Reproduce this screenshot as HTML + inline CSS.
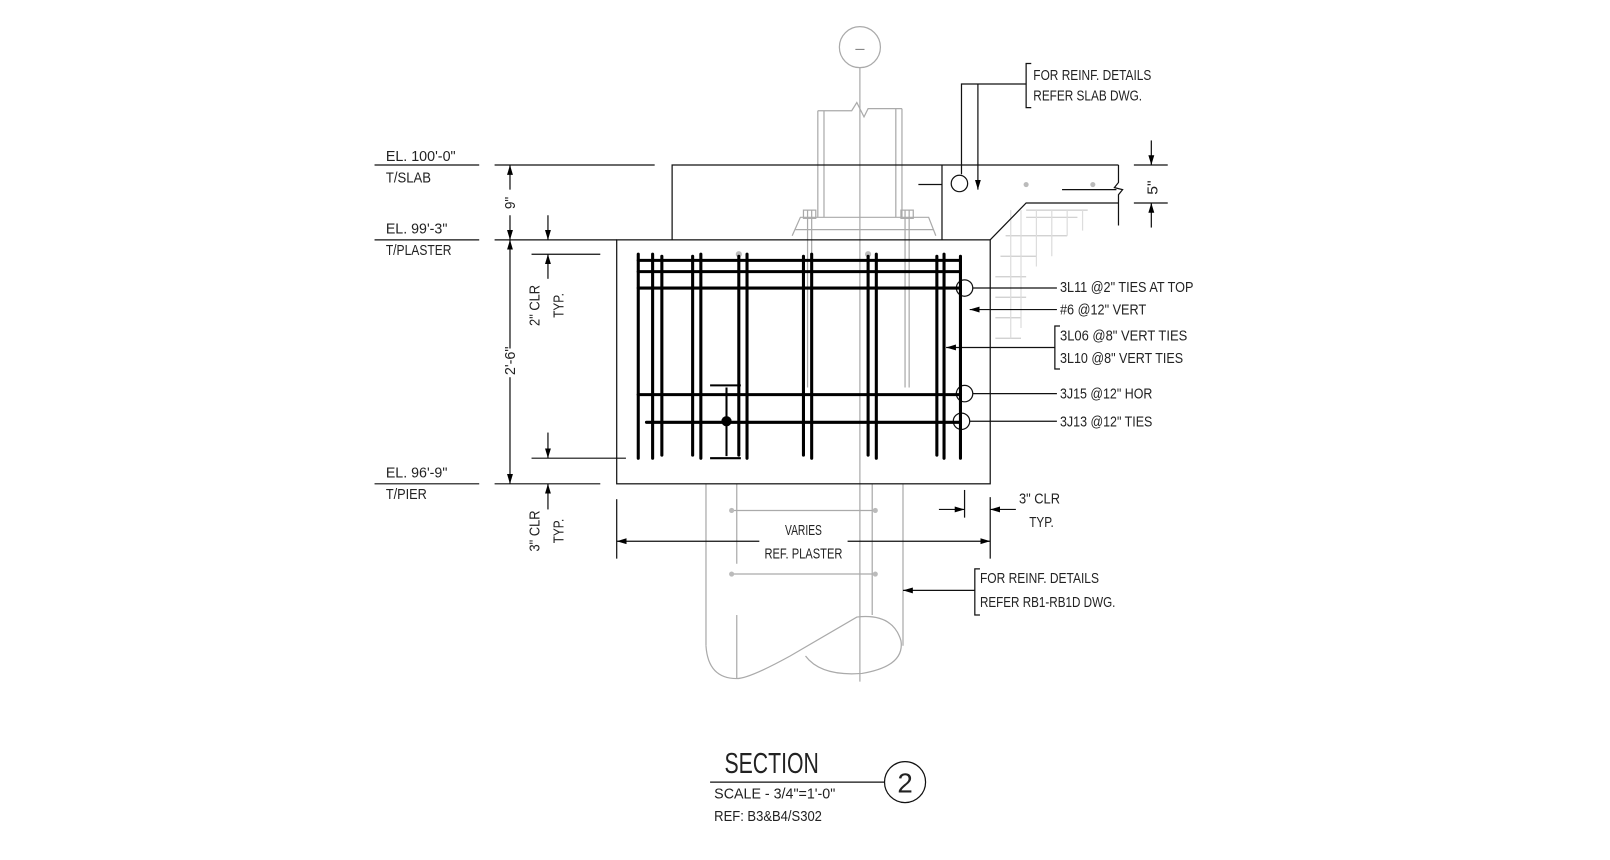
<!DOCTYPE html>
<html><head><style>
html,body{margin:0;padding:0;background:#fff;}
svg{display:block;}
text{font-family:"Liberation Sans",sans-serif;fill:#222;}
</style></head><body>
<svg width="1610" height="860" viewBox="0 0 1569 839" preserveAspectRatio="none" xmlns="http://www.w3.org/2000/svg">
<defs>
<marker id="a" viewBox="0 0 10 10" refX="10" refY="5" markerWidth="8" markerHeight="8" orient="auto-start-reverse"><path d="M0,2 L10,5 L0,8 z" fill="#000"/></marker>
</defs>
<rect width="1569" height="839" fill="#fff"/>
<g stroke="#aaa" stroke-width="1.2" fill="none">
<circle cx="838" cy="46" r="20"/>
<line x1="838" y1="66" x2="838" y2="665"/>
<path d="M797,108 L830,108 L835,100 L842,114 L846,106 L879,106"/>
<line x1="797" y1="108" x2="797" y2="212"/><line x1="803" y1="108" x2="803" y2="212"/>
<line x1="873" y1="106" x2="873" y2="212"/><line x1="879" y1="106" x2="879" y2="212"/>
<path d="M772,230 L780,212 L905,212 L912,230"/>
<line x1="775" y1="224" x2="910" y2="224"/>
<line x1="787" y1="205" x2="787" y2="378"/><line x1="791" y1="205" x2="791" y2="378"/>
<line x1="882" y1="205" x2="882" y2="378"/><line x1="886" y1="205" x2="886" y2="378"/>
<rect x="783" y="205" width="12" height="8"/><rect x="878" y="205" width="12" height="8"/>
<line x1="688" y1="472" x2="688" y2="630"/><line x1="880" y1="472" x2="880" y2="630"/>
<line x1="713" y1="498" x2="853" y2="498"/><line x1="713" y1="560" x2="853" y2="560"/>
<line x1="718" y1="472" x2="718" y2="550"/><line x1="718" y1="600" x2="718" y2="662"/>
<line x1="850" y1="472" x2="850" y2="600"/>
<path d="M688,630 Q690,662 718,662 Q730,662 770,640 L835,602 Q870,598 878,625 Q882,650 840,657 Q800,660 785,640"/>
<path d="M1000,205 H1060 M1000,212 H1050 M980,230 H1040 M975,250 H1010 M970,270 H1000 M970,290 H1000 M970,310 H995 M970,330 H995" stroke="#ccc"/>
<path d="M985,205 V330 M995,205 V320 M1010,205 V260 M1025,205 V250 M1040,205 V230 M1055,205 V225" stroke="#ddd"/>
</g>
<g fill="#bbb"><circle cx="1000" cy="180" r="2.5"/><circle cx="1065" cy="180" r="2.5"/><circle cx="713" cy="498" r="2.5"/><circle cx="853" cy="498" r="2.5"/><circle cx="713" cy="560" r="2.5"/><circle cx="853" cy="560" r="2.5"/><circle cx="720" cy="248" r="3"/><circle cx="846" cy="248" r="3"/></g>
<g stroke="#111" stroke-width="1.2" fill="none">
<line x1="482" y1="161" x2="638" y2="161"/>
<path d="M655,234 V161 H1090"/>
<path d="M918,234 V161"/>
<path d="M895,180 H918"/>
<line x1="1035" y1="185" x2="1088" y2="185"/>
<path d="M1090,161 V178 L1086,183 L1094,185 L1090,190 V220"/>
<path d="M1090,198 H1000 L965,234"/>
<circle cx="935" cy="179" r="8"/>
<path d="M1005,62 H1000 V105 H1005"/>
<path d="M1000,82 H937 V170"/>
<line x1="953" y1="82" x2="953" y2="185" marker-end="url(#a)"/>
<line x1="1105" y1="161" x2="1138" y2="161"/><line x1="1105" y1="198" x2="1138" y2="198"/>
<line x1="1122" y1="137" x2="1122" y2="161" marker-end="url(#a)"/>
<line x1="1122" y1="222" x2="1122" y2="198" marker-end="url(#a)"/>
<rect x="601" y="234" width="364" height="238"/>
<line x1="365" y1="161" x2="467" y2="161"/>
<line x1="365" y1="234" x2="467" y2="234"/><line x1="482" y1="234" x2="601" y2="234"/>
<line x1="365" y1="472" x2="467" y2="472"/><line x1="482" y1="472" x2="585" y2="472"/>
<line x1="497" y1="185" x2="497" y2="161" marker-end="url(#a)"/>
<line x1="497" y1="210" x2="497" y2="234" marker-end="url(#a)"/>
<line x1="497" y1="340" x2="497" y2="234" marker-end="url(#a)"/>
<line x1="497" y1="368" x2="497" y2="472" marker-end="url(#a)"/>
<line x1="534" y1="210" x2="534" y2="234" marker-end="url(#a)"/>
<line x1="518" y1="248" x2="585" y2="248"/>
<line x1="534" y1="272" x2="534" y2="248" marker-end="url(#a)"/>
<line x1="534" y1="422" x2="534" y2="447" marker-end="url(#a)"/>
<line x1="518" y1="447" x2="610" y2="447"/>
<line x1="534" y1="497" x2="534" y2="472" marker-end="url(#a)"/>
<line x1="601" y1="487" x2="601" y2="545"/>
<line x1="940" y1="478" x2="940" y2="505"/>
<line x1="965" y1="485" x2="965" y2="545"/>
<line x1="915" y1="497" x2="940" y2="497" marker-end="url(#a)"/>
<line x1="990" y1="497" x2="965" y2="497" marker-end="url(#a)"/>
<line x1="740" y1="528" x2="601" y2="528" marker-end="url(#a)"/>
<line x1="826" y1="528" x2="965" y2="528" marker-end="url(#a)"/>
<line x1="948" y1="281" x2="1030" y2="281"/>
<line x1="1030" y1="302" x2="945" y2="302" marker-end="url(#a)"/>
<path d="M1033,318 H1028 V360 H1033"/>
<line x1="1028" y1="339" x2="922" y2="339" marker-end="url(#a)"/>
<line x1="948" y1="384" x2="1030" y2="384"/>
<line x1="945" y1="411" x2="1030" y2="411"/>
<circle cx="940" cy="281" r="8"/><circle cx="940" cy="384" r="8"/><circle cx="937" cy="411" r="8"/>
<path d="M955,555 H950 V600 H955"/>
<line x1="950" y1="576" x2="880" y2="576" marker-end="url(#a)"/>
<line x1="692" y1="763" x2="862" y2="763"/>
<circle cx="882" cy="763" r="20"/>
</g>
<g stroke="#000" stroke-width="3" fill="none" stroke-linecap="round">
<line x1="622" y1="254" x2="936" y2="254"/>
<line x1="622" y1="265" x2="936" y2="265"/>
<line x1="622" y1="281" x2="936" y2="281"/>
<line x1="622" y1="385" x2="936" y2="385"/>
<line x1="630" y1="412" x2="936" y2="412"/>
<line x1="622" y1="248" x2="622" y2="447"/>
<line x1="636" y1="248" x2="636" y2="447"/>
<line x1="645" y1="250" x2="645" y2="444"/>
<line x1="675" y1="250" x2="675" y2="444"/>
<line x1="683" y1="248" x2="683" y2="447"/>
<line x1="720" y1="250" x2="720" y2="444"/>
<line x1="728" y1="248" x2="728" y2="447"/>
<line x1="783" y1="250" x2="783" y2="444"/>
<line x1="791" y1="248" x2="791" y2="447"/>
<line x1="846" y1="250" x2="846" y2="444"/>
<line x1="854" y1="248" x2="854" y2="447"/>
<line x1="913" y1="250" x2="913" y2="444"/>
<line x1="920" y1="248" x2="920" y2="447"/>
<line x1="936" y1="250" x2="936" y2="447"/>
</g>
<g stroke="#000" stroke-width="2" fill="none">
<line x1="692" y1="376" x2="722" y2="376"/><line x1="692" y1="447" x2="722" y2="447"/>
<line x1="708" y1="378" x2="708" y2="445"/>
</g>
<circle cx="708" cy="411" r="5" fill="#000"/>
<g font-size="14">
<text x="376" y="157" textLength="68" lengthAdjust="spacingAndGlyphs">EL. 100'-0"</text>
<text x="376" y="178" textLength="44" lengthAdjust="spacingAndGlyphs">T/SLAB</text>
<text x="376" y="228" textLength="60" lengthAdjust="spacingAndGlyphs">EL. 99'-3"</text>
<text x="376" y="249" textLength="64" lengthAdjust="spacingAndGlyphs">T/PLASTER</text>
<text x="376" y="466" textLength="60" lengthAdjust="spacingAndGlyphs">EL. 96'-9"</text>
<text x="376" y="487" textLength="40" lengthAdjust="spacingAndGlyphs">T/PIER</text>
<text transform="translate(502,204) rotate(-90)" textLength="12" lengthAdjust="spacingAndGlyphs">9"</text>
<text transform="translate(502,366) rotate(-90)" textLength="28" lengthAdjust="spacingAndGlyphs">2'-6"</text>
<text transform="translate(526,318) rotate(-90)" textLength="40" lengthAdjust="spacingAndGlyphs">2" CLR</text>
<text transform="translate(549,310) rotate(-90)" textLength="24" lengthAdjust="spacingAndGlyphs">TYP.</text>
<text transform="translate(526,538) rotate(-90)" textLength="40" lengthAdjust="spacingAndGlyphs">3" CLR</text>
<text transform="translate(549,530) rotate(-90)" textLength="24" lengthAdjust="spacingAndGlyphs">TYP.</text>
<text transform="translate(1128,190) rotate(-90)" textLength="14" lengthAdjust="spacingAndGlyphs">5"</text>
<text x="1007" y="78" textLength="115" lengthAdjust="spacingAndGlyphs">FOR REINF. DETAILS</text>
<text x="1007" y="98" textLength="106" lengthAdjust="spacingAndGlyphs">REFER SLAB DWG.</text>
<text x="1033" y="285" textLength="130" lengthAdjust="spacingAndGlyphs">3L11 @2" TIES AT TOP</text>
<text x="1033" y="307" textLength="84" lengthAdjust="spacingAndGlyphs">#6 @12" VERT</text>
<text x="1033" y="332" textLength="124" lengthAdjust="spacingAndGlyphs">3L06 @8" VERT TIES</text>
<text x="1033" y="354" textLength="120" lengthAdjust="spacingAndGlyphs">3L10 @8" VERT TIES</text>
<text x="1033" y="389" textLength="90" lengthAdjust="spacingAndGlyphs">3J15 @12" HOR</text>
<text x="1033" y="416" textLength="90" lengthAdjust="spacingAndGlyphs">3J13 @12" TIES</text>
<text x="993" y="491" textLength="40" lengthAdjust="spacingAndGlyphs">3" CLR</text>
<text x="1003" y="514" textLength="24" lengthAdjust="spacingAndGlyphs">TYP.</text>
<text x="765" y="522" textLength="36" lengthAdjust="spacingAndGlyphs">VARIES</text>
<text x="745" y="545" textLength="76" lengthAdjust="spacingAndGlyphs">REF. PLASTER</text>
<text x="955" y="569" textLength="116" lengthAdjust="spacingAndGlyphs">FOR REINF. DETAILS</text>
<text x="955" y="592" textLength="132" lengthAdjust="spacingAndGlyphs">REFER RB1-RB1D DWG.</text>
<text x="696" y="779" textLength="118" lengthAdjust="spacingAndGlyphs">SCALE - 3/4"=1'-0"</text>
<text x="696" y="801" textLength="105" lengthAdjust="spacingAndGlyphs">REF: B3&amp;B4/S302</text>
</g>
<text x="706" y="754" font-size="28" textLength="92" lengthAdjust="spacingAndGlyphs">SECTION</text>
<text x="882" y="773" font-size="27" text-anchor="middle">2</text>
<text x="838" y="52" font-size="16" text-anchor="middle" style="fill:#888">–</text>
</svg>
</body></html>
